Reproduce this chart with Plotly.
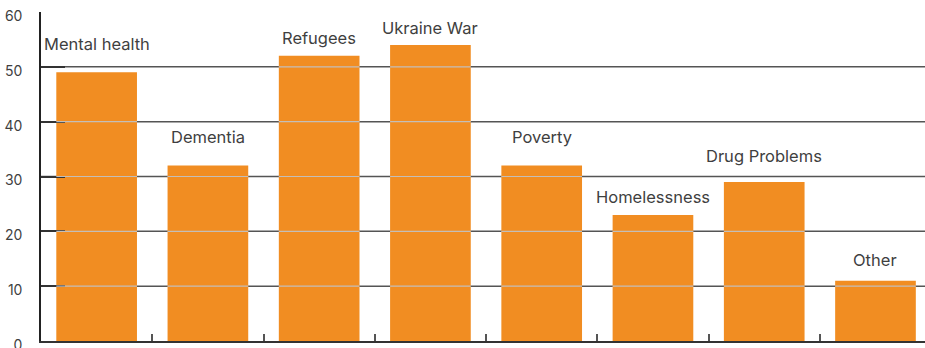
import plotly.graph_objects as go

# Survey topics and share of respondents (%)
categories = ["Mental health", "Dementia", "Refugees", "Ukraine War",
              "Poverty", "Homelessness", "Drug Problems", "Other"]
values = [49, 32, 52, 54, 32, 23, 29, 11]

# Vertical placement of each category caption (axis units)
label_y = [54.1, 37.2, 55.3, 57.0, 37.2, 26.2, 33.8, 14.8]

y_ticks = [0, 10, 20, 30, 40, 50, 60]

BAR_COLOR = "#F18D22"
TEXT_COLOR = "#3f3f3f"
GRID_DARK = "#555555"
GRID_LIGHT = "#c4beb8"
FONT = "Inter, Noto Sans, sans-serif"
BAR_HALF = 0.3625

fig = go.Figure(
    go.Bar(
        x=categories,
        y=values,
        marker=dict(color=BAR_COLOR, line=dict(width=0)),
        hoverinfo="x+y",
    )
)

shapes = []
# full-width gridlines behind the bars
for t in y_ticks[1:-1]:
    shapes.append(dict(type="line", xref="paper", yref="y", x0=0, x1=1, y0=t, y1=t,
                       line=dict(color=GRID_DARK, width=1.5), layer="below"))
# lighter gridline segments drawn across each bar
for i, v in enumerate(values):
    for t in y_ticks[1:-1]:
        if t < v:
            shapes.append(dict(type="line", xref="x", yref="y",
                               x0=i - BAR_HALF, x1=i + BAR_HALF, y0=t, y1=t,
                               line=dict(color=GRID_LIGHT, width=1.2), layer="above"))

annotations = [
    dict(x=c, y=ly, text=c, showarrow=False, xanchor="center", yanchor="middle",
         font=dict(family=FONT, size=16.5, color=TEXT_COLOR))
    for c, ly in zip(categories, label_y)
]

fig.update_layout(
    width=925, height=348,
    margin=dict(l=41, r=0, t=12, b=7, pad=0, autoexpand=False),
    paper_bgcolor="white", plot_bgcolor="white",
    bargap=0.275,
    showlegend=False,
    shapes=shapes,
    annotations=annotations,
    xaxis=dict(
        type="category",
        range=[-0.5, 7.445],
        showticklabels=False,
        showgrid=False,
        zeroline=False,
        automargin=False,
        showline=True, linecolor="#333333", linewidth=1.5,
        ticks="inside", tickson="boundaries", ticklen=7,
        tickcolor=GRID_DARK, tickwidth=1.5,
    ),
    yaxis=dict(
        range=[0, 60],
        tickvals=y_ticks,
        showgrid=False,
        zeroline=False,
        automargin=False,
        showline=True, linecolor="#222222", linewidth=1.5,
        ticks="inside", ticklen=24, tickcolor="#333333", tickwidth=1.5,
        ticklabelstandoff=14,
        ticklabelshift=4,
        ticklabeloverflow="allow",
        tickfont=dict(family=FONT, size=14, color=TEXT_COLOR),
    ),
)

fig.write_html("out.html")
